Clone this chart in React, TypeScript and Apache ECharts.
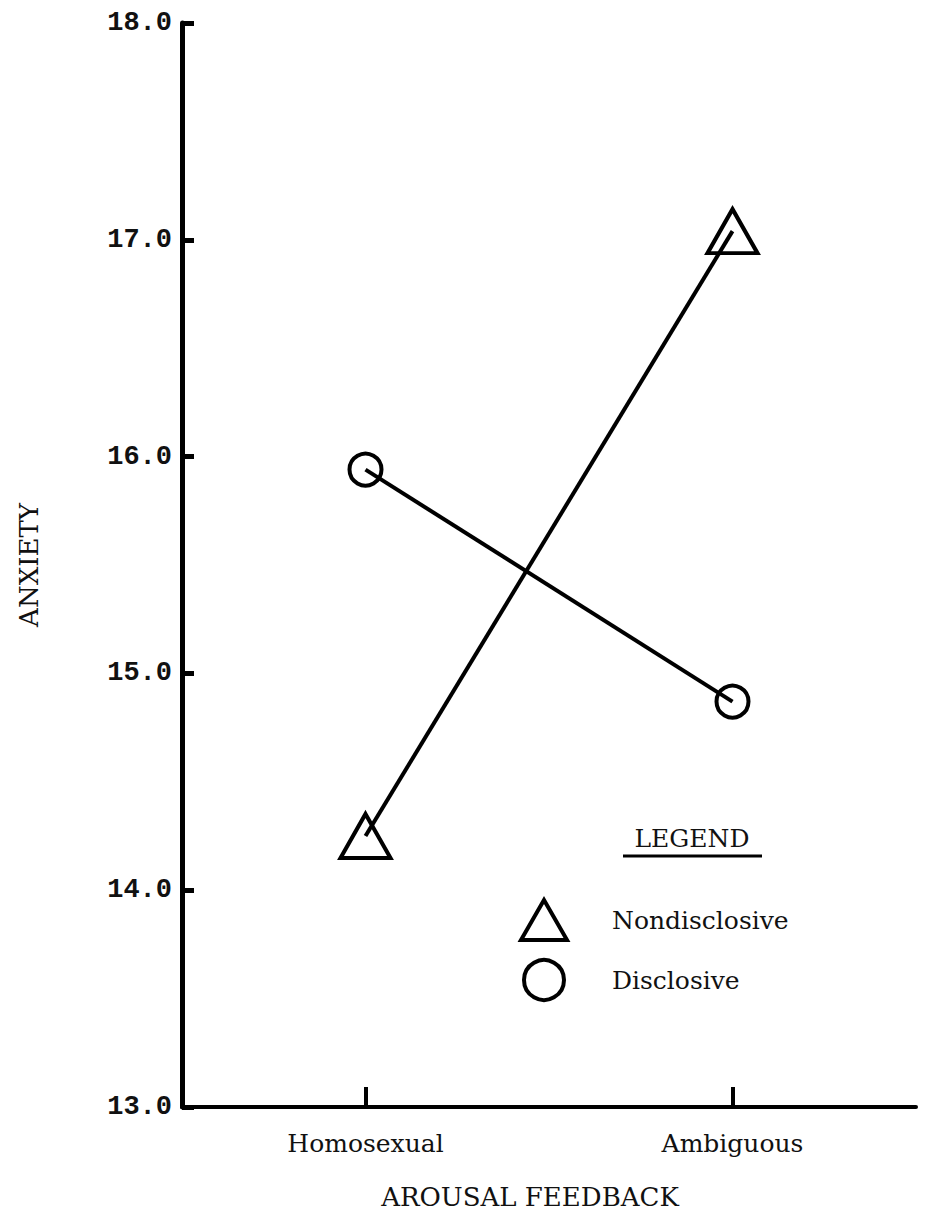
import React, { useEffect, useRef } from "react";
import * as echarts from "echarts";

const categories = ["Homosexual", "Ambiguous"];
const nondisclosive = [14.25, 17.04];
const disclosive = [15.94, 14.87];
const yTicks = { min: 13, max: 18, interval: 1 };

const FONT = "DejaVu Serif";

export default function App() {
  const ref = useRef<HTMLDivElement>(null);
  useEffect(() => {
    const chart = echarts.init(ref.current!, null, { renderer: "svg" });
    chart.setOption({
      animation: false,
      backgroundColor: "#fff",
      grid: { left: 182, right: 9, top: 23, bottom: 120, containLabel: false },
      xAxis: {
        type: "category",
        data: categories,
        boundaryGap: true,
        axisLine: { lineStyle: { color: "#000", width: 4 } },
        axisTick: { show: true, alignWithLabel: true, inside: true, length: 20, lineStyle: { color: "#000", width: 4 } },
        axisLabel: { color: "#111", fontFamily: FONT, fontSize: 25, margin: 24 },
        splitLine: { show: false },
      },
      yAxis: {
        type: "value",
        min: yTicks.min,
        max: yTicks.max,
        interval: yTicks.interval,
        name: "ANXIETY",
        nameLocation: "middle",
        nameRotate: 90,
        nameGap: 140,
        nameTextStyle: { color: "#111", fontFamily: FONT, fontSize: 26 },
        axisLine: { show: true, lineStyle: { color: "#000", width: 5 } },
        axisTick: { show: true, inside: true, length: 12, lineStyle: { color: "#000", width: 5 } },
        axisLabel: { color: "#111", fontFamily: "Liberation Mono", fontSize: 27, fontWeight: "bold", margin: 10, formatter: (v: number) => v.toFixed(1) },
        splitLine: { show: false },
      },
      legend: {
        orient: "vertical",
        left: 514,
        top: 893,
        itemGap: 16,
        itemWidth: 46,
        itemHeight: 40,
        data: [
          { name: "Nondisclosive", icon: "triangle" },
          { name: "Disclosive", icon: "circle" },
        ],
        itemStyle: { color: "rgba(0,0,0,0)", borderColor: "#000", borderWidth: 4 },
        textStyle: { color: "#111", fontFamily: FONT, fontSize: 25, padding: [0, 0, 0, 40] },
      },
      series: [
        {
          name: "Nondisclosive",
          type: "line",
          data: nondisclosive,
          symbol: "triangle",
          symbolSize: [50, 44],
          lineStyle: { color: "#000", width: 4 },
          itemStyle: { color: "rgba(0,0,0,0)", borderColor: "#000", borderWidth: 4 },
        },
        {
          name: "Disclosive",
          type: "line",
          data: disclosive,
          symbol: "circle",
          symbolSize: 32,
          lineStyle: { color: "#000", width: 4 },
          itemStyle: { color: "rgba(0,0,0,0)", borderColor: "#000", borderWidth: 4 },
        },
      ],
      graphic: [
        {
          type: "text",
          x: 692,
          y: 826,
          style: { text: "LEGEND", fill: "#111", font: `25px '${FONT}'`, align: "center" },
        },
        {
          type: "line",
          shape: { x1: 623, y1: 856, x2: 762, y2: 856 },
          style: { stroke: "#000", lineWidth: 3 },
        },
        {
          type: "text",
          x: 530,
          y: 1184,
          style: { text: "AROUSAL FEEDBACK", fill: "#111", font: `26px '${FONT}'`, align: "center" },
        },
      ],
    });
    return () => chart.dispose();
  }, []);
  return (
    <div
      ref={ref}
      style={{ position: "absolute", left: 0, top: 0, width: 925, height: 1227 }}
    />
  );
}
